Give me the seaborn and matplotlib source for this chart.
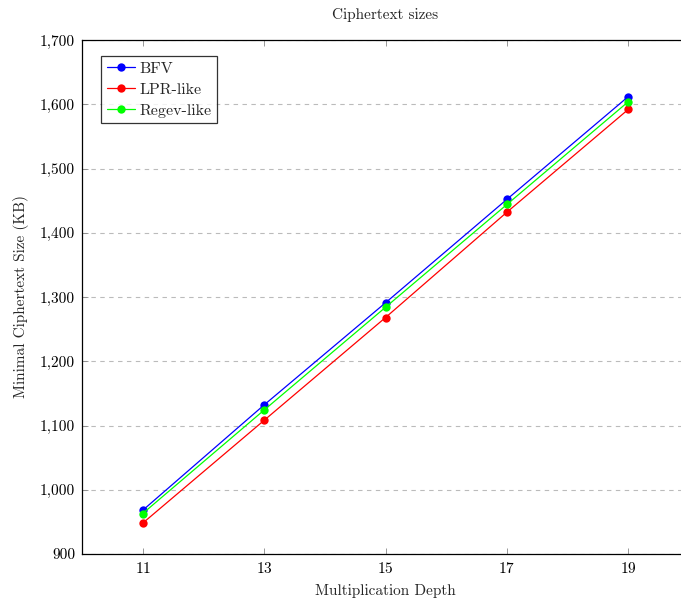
import matplotlib
matplotlib.use("Agg")
import matplotlib.pyplot as plt
import seaborn as sns
import pandas as pd
from matplotlib.ticker import FuncFormatter

depth = [11, 13, 15, 17, 19]
bfv = [968, 1132, 1291, 1452, 1612]
lpr = [948, 1108, 1268, 1432, 1592]
regev = [963, 1124, 1284, 1444, 1604]
series_names = ["BFV", "LPR-like", "Regev-like"]
colors = ["#0000ff", "#ff0000", "#00ff00"]

sns.set_theme(style="white")
plt.rcParams["font.family"] = ["cmr10", "DejaVu Serif"]
plt.rcParams["axes.formatter.use_mathtext"] = True
plt.rcParams["mathtext.fontset"] = "cm"

df = pd.DataFrame({
    "depth": depth * 3,
    "size": bfv + lpr + regev,
    "scheme": [s for s in series_names for _ in depth],
})

fig = plt.figure(figsize=(6.81, 6.02), dpi=100)
W, H = 681, 602
left, right, top, bottom = 82, 689, 40, 554
ax = fig.add_axes([left / W, 1 - bottom / H, (right - left) / W, (bottom - top) / H])

for name, col in zip(series_names, colors):
    sub = df[df["scheme"] == name]
    sns.lineplot(data=sub, x="depth", y="size", ax=ax, color=col, marker="o",
                 markersize=6, markeredgewidth=0, linewidth=0.9, label=name)

ax.set_xlim(10, 20)
ax.set_ylim(900, 1700)
ax.set_xticks(depth)
ax.set_yticks(range(900, 1701, 100))
ax.yaxis.set_major_formatter(FuncFormatter(lambda v, p: f"{int(v):,}"))
ax.grid(axis="y", color="#bbbbbb", linestyle=(0, (4, 4)), linewidth=0.8)
ax.grid(axis="x", visible=False)
for s in ax.spines.values():
    s.set_color("black")
    s.set_linewidth(0.9)
ax.tick_params(direction="in", length=4, width=0.6, color="#888888",
               labelsize=11, labelcolor="black", top=True, right=True,
               bottom=True, left=True, pad=5)
ax.set_xlabel("Multiplication Depth", fontsize=11, labelpad=6)
ax.set_ylabel("Minimal Ciphertext Size (KB)", fontsize=11, labelpad=8)
ax.set_title("Ciphertext sizes", fontsize=11, pad=15)

leg = ax.legend(loc="upper left", bbox_to_anchor=((101 - left) / (right - left), 1 - (56 - top) / (bottom - top)),
                fontsize=11.5, frameon=True, fancybox=False, edgecolor="black",
                borderpad=0.35, handlelength=1.75, handletextpad=0.3, labelspacing=0.42,
                borderaxespad=0)
leg.get_frame().set_linewidth(0.9)

fig.savefig("out.png", dpi=100)
